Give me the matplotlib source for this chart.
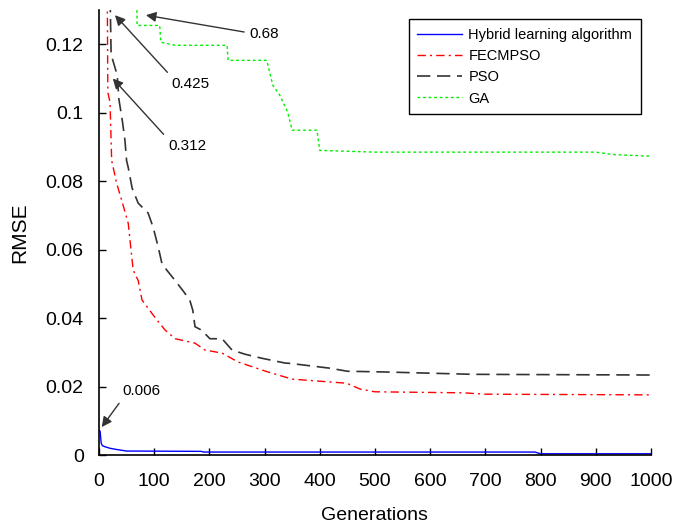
import numpy as np
import matplotlib
matplotlib.use('Agg')
import matplotlib.pyplot as plt

plt.rcParams['font.family'] = ['Liberation Sans', 'DejaVu Sans']

# data (generation, RMSE)
hybrid_gen = [0, 2, 4, 6, 10, 20, 30, 50, 185, 190, 790, 800, 1000]
hybrid_rmse = [0.0073, 0.0070, 0.0035, 0.0028, 0.0025, 0.0020, 0.0017, 0.0012,
               0.0011, 0.0009, 0.0009, 0.0004, 0.0004]

fecmpso_gen = [0, 15, 16, 20, 23, 32, 41, 53, 58, 62, 71, 78, 101, 120, 138, 174,
               192, 223, 252, 306, 350, 449, 473, 500, 660, 700, 1000]
fecmpso_rmse = [0.312, 0.135, 0.106, 0.103, 0.086, 0.0794, 0.0745, 0.0677, 0.060,
                0.054, 0.051, 0.0453, 0.0403, 0.0365, 0.034, 0.0327, 0.0307, 0.0298,
                0.0272, 0.0243, 0.0222, 0.021, 0.0193, 0.0185, 0.0182, 0.0178, 0.0176]

pso_gen = [0, 20, 22, 33, 36, 42, 47, 50, 53, 60, 71, 89, 98, 107, 114, 123, 138,
           156, 165, 170, 174, 186, 201, 223, 241, 264, 295, 337, 346, 418, 450,
           515, 678, 1000]
pso_rmse = [0.425, 0.135, 0.117, 0.111, 0.104, 0.098, 0.092, 0.086, 0.084, 0.078,
            0.0736, 0.0707, 0.0666, 0.061, 0.056, 0.054, 0.051, 0.0472, 0.045,
            0.0423, 0.0375, 0.0365, 0.034, 0.034, 0.0307, 0.0295, 0.0283, 0.0269,
            0.0268, 0.0254, 0.0245, 0.0243, 0.0236, 0.0234]

ga_gen = [0, 68, 69, 110, 112, 138, 232, 234, 304, 315, 328, 342, 350, 395, 400,
          500, 900, 931, 1000]
ga_rmse = [0.68, 0.14, 0.1255, 0.1255, 0.1206, 0.1197, 0.1197, 0.1153, 0.1153,
           0.108, 0.105, 0.1001, 0.0949, 0.0949, 0.089, 0.0885, 0.0885, 0.0878, 0.0873]

fig = plt.figure(figsize=(6.78, 5.28), dpi=100)
ax = fig.add_axes([0.146, 0.138, 0.814, 0.843])

ax.plot(hybrid_gen, hybrid_rmse, color='#0000ff', lw=1.0, label='Hybrid learning algorithm')
ax.plot(fecmpso_gen, fecmpso_rmse, color='#ff0000', lw=1.0, dashes=[6, 3, 1.5, 3],
        label='FECMPSO')
ax.plot(pso_gen, pso_rmse, color='#333333', lw=1.2, dashes=[8, 4], label='PSO')
ax.plot(ga_gen, ga_rmse, color='#00ee00', lw=1.0, dashes=[2, 2], label='GA')

ax.set_xlim(0, 1000)
ax.set_ylim(0, 0.13)
ax.set_xticks(np.arange(0, 1001, 100))
ax.set_yticks([0, 0.02, 0.04, 0.06, 0.08, 0.1, 0.12])
ax.set_yticklabels(['0', '0.02', '0.04', '0.06', '0.08', '0.1', '0.12'])
ax.tick_params(direction='in', labelsize=14, length=5, width=1)
ax.tick_params(axis='x', pad=13)
ax.tick_params(axis='y', pad=11)
ax.spines['top'].set_visible(False)
ax.spines['right'].set_visible(False)
ax.spines['left'].set_linewidth(1.2)
ax.spines['bottom'].set_linewidth(1.2)
ax.set_xlabel('Generations', fontsize=14, labelpad=12)
ax.set_ylabel('RMSE', fontsize=15, labelpad=12)

leg = ax.legend(loc='upper right', bbox_to_anchor=(0.982, 0.980), borderaxespad=0,
                fontsize=10.5, fancybox=False, framealpha=1, edgecolor='black',
                handlelength=3.1, handletextpad=0.4, borderpad=0.6, labelspacing=0.5)
leg.get_frame().set_linewidth(1.0)

arrow = dict(arrowstyle='-|>', color='#333333', lw=1.0, mutation_scale=15)

ax.annotate('0.68', xy=(85, 0.1285), xytext=(273, 0.1229), fontsize=11,
            ha='left', va='center',
            arrowprops=dict(arrow, relpos=(0, 0.6), shrinkA=2, shrinkB=0))
ax.annotate('0.425', xy=(29, 0.1285), xytext=(132, 0.1104), fontsize=11,
            ha='left', va='top',
            arrowprops=dict(arrow, relpos=(0, 1), shrinkA=2, shrinkB=0))
ax.annotate('0.312', xy=(25, 0.110), xytext=(125, 0.0923), fontsize=11,
            ha='left', va='top',
            arrowprops=dict(arrow, relpos=(0, 1), shrinkA=2, shrinkB=0))
ax.annotate('0.006', xy=(5, 0.0082), xytext=(43, 0.0166), fontsize=11,
            ha='left', va='bottom',
            arrowprops=dict(arrow, relpos=(0, 0), shrinkA=2, shrinkB=0))

fig.savefig('out.png', dpi=100)
